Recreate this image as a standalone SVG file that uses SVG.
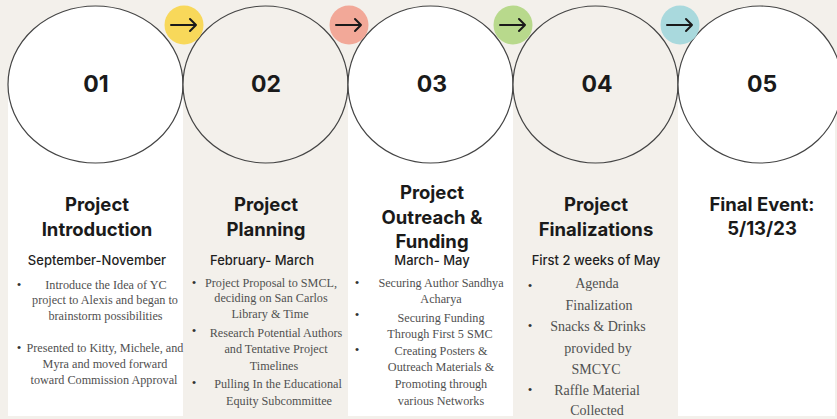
<svg xmlns="http://www.w3.org/2000/svg" width="837" height="419" viewBox="0 0 837 419">
<defs>
<style>
.num{font-family:Inter,"Liberation Sans",sans-serif;font-weight:700;font-size:23px;fill:#1a1a1a;text-anchor:middle}
.ttl{font-family:Inter,"Liberation Sans",sans-serif;font-weight:700;font-size:18.5px;fill:#1a1a1a;text-anchor:middle}
.date{font-family:Inter,"Liberation Sans",sans-serif;font-weight:500;font-size:13px;fill:#1f1f1f;text-anchor:middle}
.body{font-family:"Liberation Serif",serif;font-size:12.2px;fill:#505050;text-anchor:middle}
.big{font-family:"Liberation Serif",serif;font-size:14px;fill:#505050;text-anchor:middle}
.bul{font-family:"Liberation Serif",serif;font-size:13px;fill:#333;text-anchor:middle}
.ring{stroke:#444;stroke-width:1.2}
.arr{fill:none;stroke:#1a1a1a;stroke-width:2;stroke-linecap:round;stroke-linejoin:round}
</style>
</defs>
<rect width="837" height="419" fill="#f3f0eb"/>
<g id="panels">
<rect x="8" y="84" width="175" height="332" fill="#ffffff"/>
<rect x="183" y="84" width="165" height="332" fill="#f3f0eb"/>
<rect x="348" y="84" width="165" height="332" fill="#ffffff"/>
<rect x="513" y="84" width="165" height="332" fill="#f3f0eb"/>
<rect x="678" y="84" width="157" height="332" fill="#ffffff"/>
</g>
<g id="step1">
<ellipse class="ring" cx="95.5" cy="84.5" rx="87.5" ry="78.5" fill="#ffffff"/>
<text class="num" x="96" y="92">01</text>
<text class="ttl" x="97" y="211">Project</text>
<text class="ttl" x="97" y="236">Introduction</text>
<text class="date" x="97" y="265">September-November</text>
<text class="bul" x="19" y="289">•</text>
<text class="body" x="106" y="289">Introduce the Idea of YC</text>
<text class="body" x="105" y="304">project to Alexis and began to</text>
<text class="body" x="105.5" y="320">brainstorm possibilities</text>
<text class="bul" x="19" y="352">•</text>
<text class="body" x="105" y="352">Presented to Kitty, Michele, and</text>
<text class="body" x="105" y="368">Myra and moved forward</text>
<text class="body" x="104" y="384">toward Commission Approval</text>
</g>
<g id="step2">
<ellipse class="ring" cx="265.5" cy="84.5" rx="82.5" ry="78.5" fill="#f3f0eb"/>
<text class="num" x="266" y="92">02</text>
<text class="ttl" x="266" y="211">Project</text>
<text class="ttl" x="266" y="236">Planning</text>
<text class="date" x="262" y="265">February- March</text>
<text class="bul" x="194" y="287">•</text>
<text class="body" x="271" y="287">Project Proposal to SMCL,</text>
<text class="body" x="271" y="302">deciding on San Carlos</text>
<text class="body" x="270" y="318">Library &amp; Time</text>
<text class="bul" x="194" y="335">•</text>
<text class="body" x="276" y="337">Research Potential Authors</text>
<text class="body" x="276" y="353">and Tentative Project</text>
<text class="body" x="274" y="370">Timelines</text>
<text class="bul" x="194" y="387">•</text>
<text class="body" x="278" y="388">Pulling In the Educational</text>
<text class="body" x="279" y="405">Equity Subcommittee</text>
</g>
<g id="step3">
<ellipse class="ring" cx="430.5" cy="84.5" rx="82.5" ry="78.5" fill="#ffffff"/>
<text class="num" x="432" y="92">03</text>
<text class="ttl" x="432" y="199">Project</text>
<text class="ttl" x="432" y="224">Outreach &amp;</text>
<text class="ttl" x="432" y="248">Funding</text>
<text class="date" x="432" y="265">March- May</text>
<text class="bul" x="357" y="287">•</text>
<text class="body" x="441" y="287">Securing Author Sandhya</text>
<text class="body" x="441" y="303">Acharya</text>
<text class="bul" x="357" y="319">•</text>
<text class="body" x="441" y="322">Securing Funding</text>
<text class="body" x="440" y="338">Through First 5 SMC</text>
<text class="bul" x="357" y="354">•</text>
<text class="body" x="441" y="355">Creating Posters &amp;</text>
<text class="body" x="441" y="371">Outreach Materials  &amp;</text>
<text class="body" x="441" y="388">Promoting through</text>
<text class="body" x="441" y="405">various Networks</text>
</g>
<g id="step4">
<ellipse class="ring" cx="595.5" cy="84.5" rx="82.5" ry="78.5" fill="#f3f0eb"/>
<text class="num" x="597" y="92">04</text>
<text class="ttl" x="596" y="211">Project</text>
<text class="ttl" x="596" y="236">Finalizations</text>
<text class="date" x="596" y="265">First 2 weeks of May</text>
<text class="bul" x="530" y="290">•</text>
<text class="big" x="597" y="288">Agenda</text>
<text class="big" x="599" y="310">Finalization</text>
<text class="bul" x="530" y="330">•</text>
<text class="big" x="598" y="331">Snacks &amp; Drinks</text>
<text class="big" x="598" y="353">provided by</text>
<text class="big" x="596" y="374">SMCYC</text>
<text class="bul" x="530" y="394">•</text>
<text class="big" x="597" y="395">Raffle Material</text>
<text class="big" x="597" y="415">Collected</text>
</g>
<g id="step5">
<ellipse class="ring" cx="760" cy="84.5" rx="82" ry="78.5" fill="#ffffff"/>
<text class="num" x="762" y="92">05</text>
<text class="ttl" x="762" y="211">Final Event:</text>
<text class="ttl" x="762" y="235">5/13/23</text>
</g>
<g id="connectors">
<circle cx="184" cy="25" r="19.5" fill="#f8d85a"/>
<path class="arr" d="M171 25H196M190 19L196 25L190 31"/>
<circle cx="349" cy="25" r="19.5" fill="#f2a898"/>
<path class="arr" d="M336 25H361M355 19L361 25L355 31"/>
<circle cx="513" cy="25" r="19.5" fill="#b8d98c"/>
<path class="arr" d="M500 25H525M519 19L525 25L519 31"/>
<circle cx="680" cy="25" r="19.5" fill="#a9d9dd"/>
<path class="arr" d="M667 25H692M686 19L692 25L686 31"/>
</g>
</svg>
